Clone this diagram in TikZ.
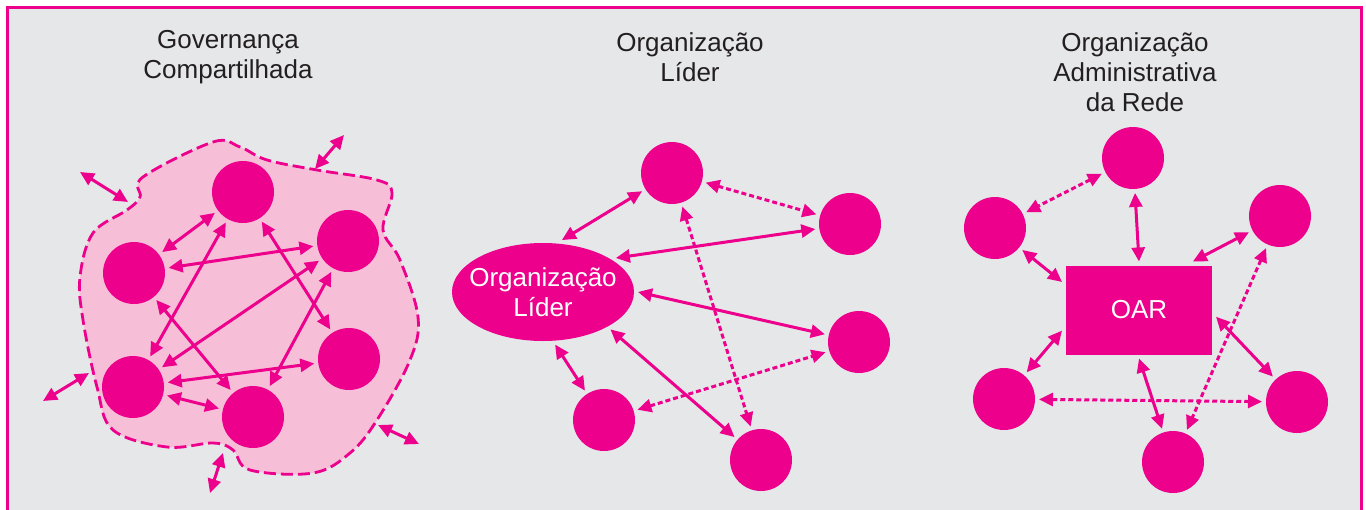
\documentclass[tikz,border=0pt]{standalone}
\usepackage{fontspec}
\setmainfont{Liberation Sans}
\usetikzlibrary{arrows.meta,shapes.geometric}

\definecolor{rosa}{HTML}{EC008C}
\definecolor{rosaclaro}{HTML}{F7BFD7}
\definecolor{fundo}{HTML}{E6E7E8}
\definecolor{texto}{HTML}{231F20}

\tikzset{
	membro/.style={circle, fill=rosa, minimum size=31pt, inner sep=0pt, outer sep=2pt},
	lider/.style={ellipse, fill=rosa, minimum width=91pt, minimum height=49pt, inner xsep=-5pt, inner ysep=0pt, outer sep=2pt, text=white, align=center},
	oar/.style={rectangle, fill=rosa, minimum width=73pt, minimum height=44.5pt, outer sep=2pt, text=white},
	titulo/.style={align=center, text=texto},
	elo/.style={draw=rosa, line width=1.5pt, {Triangle[length=7pt,width=6.5pt]}-{Triangle[length=7pt,width=6.5pt]}},
	elofraco/.style={elo, dash pattern=on 2.5pt off 1.5pt},
}

\begin{document}
\begin{tikzpicture}[x=0.5pt, y=-0.5pt, font=\fontsize{13}{15}\selectfont]

	\useasboundingbox (0,0) rectangle (1366,509);
	\fill[white] (0,0) rectangle (1366,509);
	\filldraw[fill=fundo, draw=rosa, line width=1.5pt] (7,7) rectangle (1361,530);

	% titulos
	\node[titulo] (t1) at (228,57) {Governança\\Compartilhada};
	\node[titulo] (t2) at (690,57) {Organização\\Líder};
	\node[titulo] (t3) at (1135,72) {Organização\\Administrativa\\da Rede};

	% governanca compartilhada
	\draw[rosa, fill=rosaclaro, line width=1.4pt, dash pattern=on 6pt off 2.5pt]
		plot[smooth cycle, tension=0.6] coordinates {(143,177) (213,142) (240,147) (267,160) (317,170)
		(377,180) (392,193) (383,230) (400,260) (418,317) (410,360) (377,420) (350,453) (313,473)
		(250,470) (233,450) (213,443) (167,447) (113,430) (97,387) (83,320) (80,277) (93,233)
		(127,210) (140,197)};

	\node[membro] (c1) at (243,192) {};
	\node[membro] (c2) at (134,273) {};
	\node[membro] (c3) at (348,241) {};
	\node[membro] (c4) at (133,387) {};
	\node[membro] (c5) at (253,417) {};
	\node[membro] (c6) at (349,359) {};

	\draw[elo] (c1) -- (c2);
	\draw[elo] (c2) -- (c3);
	\draw[elo] (c1) -- (c4);
	\draw[elo] (c1) -- (c6);
	\draw[elo] (c3) -- (c4);
	\draw[elo] (c3) -- (c5);
	\draw[elo] (c2) -- (c5);
	\draw[elo] (c4) -- (c6);
	\draw[elo] (c4) -- (c5);

	\coordinate (f1a) at (80,172);  \coordinate (f1b) at (128,202);
	\coordinate (f2a) at (315,169); \coordinate (f2b) at (344,135);
	\coordinate (f3a) at (43,401);  \coordinate (f3b) at (89,373);
	\coordinate (f4a) at (378,425); \coordinate (f4b) at (419,444);
	\coordinate (f5a) at (223,453); \coordinate (f5b) at (210,493);
	\draw[elo] (f1a) -- (f1b);
	\draw[elo] (f2a) -- (f2b);
	\draw[elo] (f3a) -- (f3b);
	\draw[elo] (f4a) -- (f4b);
	\draw[elo] (f5a) -- (f5b);

	% organizacao lider
	\node[lider] (lid) at (543,292) {Organização\\Líder};
	\node[membro] (p1) at (672,173) {};
	\node[membro] (p2) at (850,224) {};
	\node[membro] (p3) at (859,342) {};
	\node[membro] (p4) at (604,420) {};
	\node[membro] (p5) at (761,460) {};

	\draw[elo] (lid.70) -- (p1);
	\draw[elo] (lid.25) -- (p2);
	\draw[elo] (lid.east) -- (p3);
	\draw[elo] (lid.-77) -- (p4);
	\draw[elo] (lid.-29) -- (p5);
	\draw[elofraco] (p1) -- (p2);
	\draw[elofraco] (p1) -- (p5);
	\draw[elofraco] (p4) -- (p3);

	% organizacao administrativa da rede
	\node[oar] (oar) at (1139,310) {OAR};
	\node[membro] (q1) at (1133,158) {};
	\node[membro] (q2) at (995,228) {};
	\node[membro] (q3) at (1280,216) {};
	\node[membro] (q4) at (1004,399) {};
	\node[membro] (q5) at (1173,462) {};
	\node[membro] (q6) at (1297,402) {};

	\draw[elo] (oar.north) -- (q1);
	\draw[elo] (oar.160) -- (q2);
	\draw[elo] (oar.42) -- (q3);
	\draw[elo] (oar.195) -- (q4);
	\draw[elo] (oar.south) -- (q5);
	\draw[elo] (oar.-5) -- (q6);
	\draw[elofraco] (q1) -- (q2);
	\draw[elofraco] (q4) -- (q6);
	\draw[elofraco] (q3) -- (q5);

\end{tikzpicture}
\end{document}
